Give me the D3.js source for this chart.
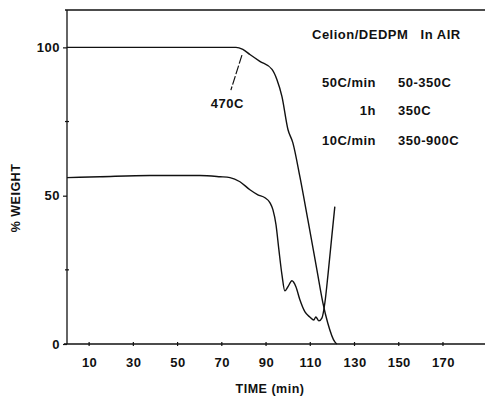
<!DOCTYPE html>
<html>
<head>
<meta charset="utf-8">
<script src="https://cdn.jsdelivr.net/npm/d3@7"></script>
<style>
  body { margin: 0; background: #fff; }
  svg text { font-family: "Liberation Sans", Arial, sans-serif; font-weight: bold; fill: #111; letter-spacing: 0.5px; }
</style>
</head>
<body>
<svg id="chart" width="485" height="398"></svg>
<script>
// time (min) / % weight
const upperTime   = [0, 40, 76.4, 79.5, 82.7, 87.2, 92.7, 94.9, 97.2, 99.9, 102.1, 105.3, 108.9, 113.0, 115.7, 117.9, 121.1, 122];
const upperWeight = [100, 100, 100, 99.3, 97.6, 95.3, 92.6, 89.2, 83.4, 72.3, 67.9, 56.4, 41.9, 25, 13.9, 7.1, 0.7, 0];

const lowerTime   = [0, 14.9, 37.5, 60.1, 69.2, 73.7, 78.2, 82.7, 86.3, 89.5, 91.8, 93.1, 94.5, 95.8, 97.2, 98.5, 99.9, 101.7, 103.5, 105.3, 107.6, 109.8, 111.6, 112.5, 113.9, 115.3, 116.6, 118.0, 119.8, 121.1];
const lowerWeight = [56.1, 56.4, 56.8, 56.8, 56.4, 56.1, 54.7, 52.0, 50.3, 49.3, 47.6, 45.3, 40.2, 31.8, 23.3, 17.9, 19.3, 21.3, 19.3, 14.9, 10.8, 9.1, 8.1, 9.1, 7.8, 8.8, 13.9, 23.3, 36.8, 46.3];

const xTicks = [10, 30, 50, 70, 90, 110, 130, 150, 170];
const yLabelTicks = [0, 50, 100];
const yMinorTicks = [25, 75];

const svg = d3.select('#chart');
const x = d3.scaleLinear().domain([0, 189]).range([67, 485]);
const y = d3.scaleLinear().domain([0, 112.6]).range([344, 10]);

const ink = '#111';

// frame: top line, left axis, bottom axis
svg.append('line').attr('x1', x(0) - 2).attr('x2', x(189)).attr('y1', y(112.6)).attr('y2', y(112.6))
  .attr('stroke', ink).attr('stroke-width', 1.3);
svg.append('line').attr('x1', x(0)).attr('x2', x(0)).attr('y1', y(112.6)).attr('y2', y(0))
  .attr('stroke', ink).attr('stroke-width', 1.3);
svg.append('line').attr('x1', x(0) - 3).attr('x2', x(189)).attr('y1', y(0)).attr('y2', y(0))
  .attr('stroke', ink).attr('stroke-width', 1.5);

// x ticks cross the axis
const xAxis = d3.axisBottom(x).tickValues(xTicks).tickSize(0).tickPadding(14).tickFormat(d3.format('d'));
const gx = svg.append('g').attr('transform', `translate(0, ${y(0)})`).call(xAxis);
gx.select('.domain').remove();
gx.selectAll('text').attr('font-size', 13).attr('fill', ink);
svg.append('g').selectAll('line').data(xTicks).join('line')
  .attr('x1', d => x(d)).attr('x2', d => x(d))
  .attr('y1', y(0) - 2).attr('y2', y(0) + 2)
  .attr('stroke', ink).attr('stroke-width', 1.2);

// y ticks
const yAxis = d3.axisLeft(y).tickValues(yLabelTicks).tickSize(4).tickPadding(3).tickFormat(d3.format('d'));
const gy = svg.append('g').attr('transform', `translate(${x(0)}, 0)`).call(yAxis);
gy.select('.domain').remove();
gy.selectAll('line').attr('stroke', ink).attr('stroke-width', 1.2);
gy.selectAll('text').attr('font-size', 13).attr('fill', ink);
svg.append('g').selectAll('line').data(yMinorTicks).join('line')
  .attr('x1', x(0) - 2).attr('x2', x(0) + 2)
  .attr('y1', d => y(d)).attr('y2', d => y(d))
  .attr('stroke', ink).attr('stroke-width', 1.2);

// curves
const line = d3.line().x(d => x(d[0])).y(d => y(d[1])).curve(d3.curveMonotoneX);
svg.append('path').datum(upperTime.map((t, i) => [t, upperWeight[i]]))
  .attr('fill', 'none').attr('stroke', ink).attr('stroke-width', 1.4).attr('d', line);
svg.append('path').datum(lowerTime.map((t, i) => [t, lowerWeight[i]]))
  .attr('fill', 'none').attr('stroke', ink).attr('stroke-width', 1.4).attr('d', line);

// 470C leader
svg.append('line').attr('x1', x(79.1)).attr('y1', y(97.4)).attr('x2', x(74.1)).attr('y2', y(85.6))
  .attr('stroke', ink).attr('stroke-width', 1.2).attr('stroke-dasharray', '9,2');
svg.append('text').attr('x', x(72.5)).attr('y', y(79.4)).attr('text-anchor', 'middle')
  .attr('font-size', 13).text('470C');

// annotation block
svg.append('text').attr('x', 312).attr('y', 38.5).attr('font-size', 13).attr('xml:space', 'preserve')
  .text('Celion/DEDPM   In AIR');
const rows = [['50C/min', '50-350C', 86.5], ['1h', '350C', 114.5], ['10C/min', '350-900C', 144.5]];
rows.forEach(r => {
  svg.append('text').attr('x', 376).attr('y', r[2]).attr('text-anchor', 'end').attr('font-size', 13).text(r[0]);
  svg.append('text').attr('x', 398).attr('y', r[2]).attr('font-size', 13).text(r[1]);
});

// axis titles
svg.append('text').attr('x', 270).attr('y', 393).attr('text-anchor', 'middle').attr('font-size', 12.5)
  .attr('letter-spacing', 1).text('TIME (min)');
svg.append('text').attr('transform', 'translate(20, 198) rotate(-90)').attr('text-anchor', 'middle')
  .attr('font-size', 12.5).attr('letter-spacing', 1).text('% WEIGHT');
</script>
</body>
</html>
